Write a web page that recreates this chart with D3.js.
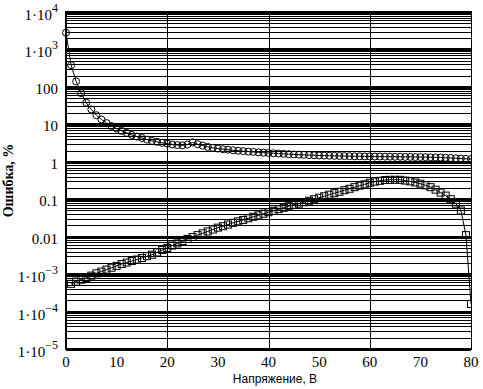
<!DOCTYPE html>
<html>
<head>
<meta charset="utf-8">
<script src="https://cdn.jsdelivr.net/npm/d3@7"></script>
<style>
  body { margin: 0; background: #fff; }
  svg { display: block; }
  text { font-family: "Liberation Serif", "Times New Roman", serif; fill: #000; }
</style>
</head>
<body>
<svg width="483" height="389"></svg>
<script>
// voltage steps, V
const voltsTop = d3.range(0, 81)
const voltsBottom = d3.range(1, 81)

// error, % (circles)
const errTop = [
  2800, 380, 140, 68, 38, 25, 17.5, 13.5, 10.8, 9, 7.7,
  6.7, 5.9, 5.2, 4.7, 4.3, 3.9, 3.6, 3.4, 3.2, 3.05,
  2.9, 2.8, 2.75, 2.9, 3.3, 2.95, 2.7, 2.5, 2.35, 2.25,
  2.17, 2.1, 2.03, 1.97, 1.92, 1.87, 1.83, 1.79, 1.75, 1.72,
  1.69, 1.66, 1.63, 1.6, 1.57, 1.55, 1.53, 1.51, 1.49, 1.47,
  1.46, 1.45, 1.44, 1.43, 1.42, 1.41, 1.4, 1.4, 1.39, 1.39,
  1.38, 1.38, 1.37, 1.37, 1.36, 1.36, 1.35, 1.35, 1.34, 1.34,
  1.33, 1.32, 1.31, 1.3, 1.28, 1.26, 1.24, 1.22, 1.2, 1.18
]

// error, % (squares)
const errBottom = [
  5.5e-4, 6.3e-4, 7.1e-4, 7.9e-4, 9.1e-4, 1.05e-3, 1.17e-3, 1.32e-3, 1.48e-3, 1.66e-3,
  1.86e-3, 2.04e-3, 2.24e-3, 2.45e-3, 2.69e-3, 3.0e-3, 3.3e-3, 3.8e-3, 4.4e-3, 5.0e-3,
  5.8e-3, 6.6e-3, 7.6e-3, 8.7e-3, 9.8e-3, 0.011, 0.0123, 0.0138, 0.0155, 0.0174,
  0.019, 0.021, 0.0234, 0.0257, 0.028, 0.031, 0.034, 0.037, 0.041, 0.045,
  0.049, 0.054, 0.059, 0.065, 0.071, 0.076, 0.083, 0.091, 0.1, 0.11,
  0.12, 0.132, 0.145, 0.158, 0.174, 0.19, 0.21, 0.23, 0.25, 0.275,
  0.295, 0.31, 0.325, 0.33, 0.33, 0.33, 0.315, 0.3, 0.28, 0.26,
  0.235, 0.21, 0.18, 0.15, 0.125, 0.1, 0.076, 0.05, 0.011, 1.6e-4
]

const xTicks = [0, 10, 20, 30, 40, 50, 60, 70, 80]
const xGrid = [20, 40, 60]
const yDecades = [1e-5, 1e-4, 1e-3, 0.01, 0.1, 1, 10, 100, 1e3, 1e4]

const svg = d3.select("svg")

const x = d3.scaleLinear().domain([0, 80]).range([66, 471])
const y = d3.scaleLog().domain([1e-5, 1e4]).range([349, 12])

// markers past the right edge get cut like in the original
svg.append("clipPath").attr("id", "plotclip")
  .append("rect").attr("x", 0).attr("y", 0).attr("width", x(80)).attr("height", 389)

const grid = svg.append("g").attr("shape-rendering", "crispEdges")

// minor log lines (2..9 in each decade)
grid.selectAll("line.minor")
  .data(y.ticks().filter(d => !yDecades.some(p => Math.abs(d / p - 1) < 1e-9)))
  .enter().append("line")
  .attr("x1", x(0)).attr("x2", x(80))
  .attr("y1", d => Math.round(y(d)) + 0.5).attr("y2", d => Math.round(y(d)) + 0.5)
  .attr("stroke", "#000").attr("stroke-width", 1)

// decade lines, heavier
grid.selectAll("line.major")
  .data(yDecades)
  .enter().append("line")
  .attr("x1", x(0)).attr("x2", x(80))
  .attr("y1", d => Math.round(y(d))).attr("y2", d => Math.round(y(d)))
  .attr("stroke", "#000").attr("stroke-width", 3)

grid.selectAll("line.vgrid")
  .data(xGrid)
  .enter().append("line")
  .attr("x1", d => Math.round(x(d)) + 0.5).attr("x2", d => Math.round(x(d)) + 0.5)
  .attr("y1", y(1e4)).attr("y2", y(1e-5))
  .attr("stroke", "#000").attr("stroke-width", 1)

// frame: left and right edges
grid.append("line")
  .attr("x1", x(0)).attr("x2", x(0)).attr("y1", y(1e4) - 1).attr("y2", y(1e-5) + 1)
  .attr("stroke", "#000").attr("stroke-width", 2)
grid.append("line")
  .attr("x1", x(80) + 0.5).attr("x2", x(80) + 0.5).attr("y1", y(1e4) - 1).attr("y2", y(1e-5) + 1)
  .attr("stroke", "#000").attr("stroke-width", 1)

// x tick labels
svg.append("g").selectAll("text")
  .data(xTicks)
  .enter().append("text")
  .attr("x", d => x(d))
  .attr("y", 367)
  .attr("text-anchor", "middle")
  .style("font-size", "15px")
  .text(d => d)

// y tick labels
const yLab = svg.append("g").selectAll("text")
  .data(yDecades)
  .enter().append("text")
  .attr("x", 58)
  .attr("y", d => y(d) + 7)
  .attr("text-anchor", "end")
  .style("font-size", "15px")

yLab.each(function (d) {
  const e = Math.round(Math.log10(d))
  const t = d3.select(this)
  if (e >= -2 && e <= 2) {
    t.text(d3.format("~g")(d))
  } else {
    t.attr("y", y(d) + 8)
    t.append("tspan").text("1\u00b710")
    t.append("tspan")
      .attr("dy", -8)
      .style("font-size", "12px")
      .text(e < 0 ? "\u2212" + (-e) : e)
  }
})

// series
const line = d3.line().x(d => x(d[0])).y(d => y(d[1]))
const topPts = voltsTop.map((v, i) => [v, errTop[i]])
const botPts = voltsBottom.map((v, i) => [v, errBottom[i]])

const series = svg.append("g").attr("clip-path", "url(#plotclip)")

series.append("path").datum(topPts)
  .attr("d", line).attr("fill", "none").attr("stroke", "#000").attr("stroke-width", 1)
series.append("path").datum(botPts)
  .attr("d", line).attr("fill", "none").attr("stroke", "#000").attr("stroke-width", 1)

series.append("g").selectAll("circle")
  .data(topPts)
  .enter().append("circle")
  .attr("cx", d => x(d[0])).attr("cy", d => y(d[1]))
  .attr("r", 3.5)
  .attr("fill", "none").attr("stroke", "#000").attr("stroke-width", 1)

series.append("g").selectAll("rect")
  .data(botPts)
  .enter().append("rect")
  .attr("x", d => x(d[0]) - 3.5).attr("y", d => y(d[1]) - 3.5)
  .attr("width", 7).attr("height", 7)
  .attr("fill", "none").attr("stroke", "#000").attr("stroke-width", 1)

// axis titles
svg.append("text")
  .attr("x", 275).attr("y", 383)
  .attr("text-anchor", "middle")
  .style("font-family", "'Liberation Sans', Arial, sans-serif")
  .style("font-size", "12px")
  .text("Напряжение, В")

svg.append("text")
  .attr("transform", "translate(13," + (y(1e4) + y(1e-5)) / 2 + ") rotate(-90)")
  .attr("text-anchor", "middle")
  .style("font-size", "14px")
  .style("font-weight", "bold")
  .text("Ошибка, %")
</script>
</body>
</html>
